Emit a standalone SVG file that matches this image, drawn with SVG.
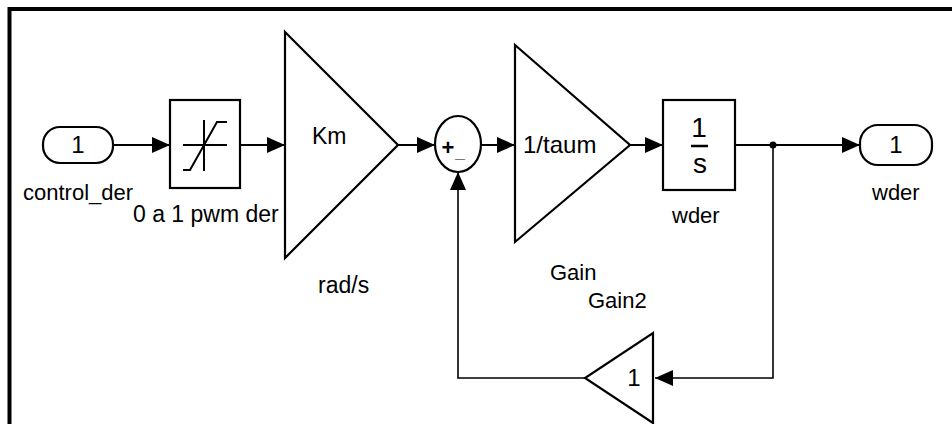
<svg xmlns="http://www.w3.org/2000/svg" width="952" height="424" viewBox="0 0 952 424">
<defs>
<style>
.blk{fill:#fff;stroke:#000;stroke-width:2.2}
.ln{fill:none;stroke:#000;stroke-width:2}
.fb{fill:none;stroke:#000;stroke-width:1.6}
text{font-family:"Liberation Sans",Arial,sans-serif;fill:#000}
.lbl{font-size:22px}
.mid{text-anchor:middle}
</style>
<marker id="arr" markerUnits="userSpaceOnUse" markerWidth="18" markerHeight="16" refX="18" refY="8" orient="auto">
<path d="M0,0 L18,8 L0,16 z" fill="#000"/>
</marker>
</defs>
<rect width="952" height="424" fill="#fff"/>
<path d="M9.5,424 V9 H952" fill="none" stroke="#000" stroke-width="4"/>

<g id="connectors">
<line class="ln" x1="113" y1="145" x2="170" y2="145" marker-end="url(#arr)"/>
<line class="ln" x1="240" y1="145" x2="285" y2="145" marker-end="url(#arr)"/>
<line class="ln" x1="398" y1="145" x2="435" y2="145" marker-end="url(#arr)"/>
<line class="ln" x1="481" y1="145" x2="515" y2="145" marker-end="url(#arr)"/>
<line class="ln" x1="630" y1="145" x2="663" y2="145" marker-end="url(#arr)"/>
<line class="ln" x1="735" y1="145" x2="860" y2="145" marker-end="url(#arr)"/>
<path class="fb" d="M773,145 V378 H655" marker-end="url(#arr)"/>
<path class="fb" d="M585,378 H458 V172" marker-end="url(#arr)"/>
<circle cx="773" cy="145" r="3.5" fill="#000"/>
</g>

<g id="inport">
<rect class="blk" x="43" y="127" width="70" height="36" rx="17" ry="17"/>
<text class="mid" x="78" y="153" font-size="24">1</text>
<text class="lbl" x="23" y="200">control_der</text>
</g>

<g id="saturation">
<rect class="blk" x="170" y="100" width="70" height="88"/>
<line class="ln" x1="183" y1="145" x2="227" y2="145"/>
<line class="ln" x1="204" y1="120" x2="204" y2="171"/>
<polyline class="ln" points="183,170 190,170 217,122 227,122"/>
<text x="133" y="222" font-size="23">0 a 1 pwm der</text>
</g>

<g id="km">
<polygon class="blk" points="285,32 398,145 285,258"/>
<text x="312" y="144" font-size="23">Km</text>
<text x="318" y="293" font-size="23">rad/s</text>
</g>

<g id="sum">
<ellipse class="blk" cx="458" cy="144" rx="23" ry="28"/>
<text class="mid" x="448" y="155" font-size="22" font-weight="bold">+</text>
<text class="mid" x="460" y="158" font-size="18" font-weight="bold">_</text>
</g>

<g id="gain">
<polygon class="blk" points="515,45 630,145 515,242"/>
<text x="523" y="153" font-size="24">1/taum</text>
<text class="lbl" x="550" y="280">Gain</text>
</g>

<g id="integrator">
<rect class="blk" x="663" y="100" width="72" height="90"/>
<text class="mid" x="699" y="137" font-size="28">1</text>
<line x1="691" y1="146" x2="708" y2="146" stroke="#000" stroke-width="2.5"/>
<text class="mid" x="700" y="173" font-size="28">s</text>
<text class="lbl" x="672" y="223">wder</text>
</g>

<g id="outport">
<rect class="blk" x="860" y="125" width="72" height="40" rx="18" ry="18"/>
<text class="mid" x="896" y="153" font-size="24">1</text>
<text class="lbl" x="872" y="200">wder</text>
</g>

<g id="gain2">
<polygon class="blk" points="653,333 653,423 585,378"/>
<text class="mid" x="634" y="386" font-size="24">1</text>
<text class="lbl" x="588" y="308">Gain2</text>
</g>
</svg>
